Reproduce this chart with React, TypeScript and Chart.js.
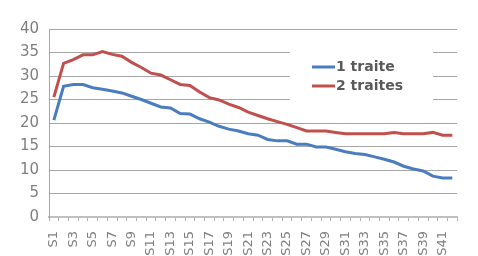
import React, { useEffect, useRef } from "react";
import { Chart, registerables } from "chart.js";

Chart.register(...registerables);

const categories: string[] = Array.from({ length: 42 }, (_, i) => "S" + (i + 1));
const seriesNames = ["1 traite", "2 traites"];
const oneTraite = [20.6, 27.8, 28.2, 28.2, 27.5, 27.2, 26.8, 26.4, 25.7, 25.0, 24.2, 23.4, 23.2, 22.0, 21.9, 20.9, 20.2, 19.3, 18.7, 18.3, 17.7, 17.4, 16.5, 16.2, 16.2, 15.5, 15.5, 14.9, 14.9, 14.4, 13.9, 13.5, 13.3, 12.8, 12.3, 11.7, 10.8, 10.2, 9.8, 8.7, 8.3, 8.3];
const twoTraites = [25.5, 32.7, 33.5, 34.5, 34.5, 35.2, 34.6, 34.2, 32.9, 31.8, 30.6, 30.2, 29.2, 28.2, 28.0, 26.6, 25.4, 24.9, 24.0, 23.3, 22.3, 21.6, 20.9, 20.3, 19.7, 19.0, 18.3, 18.3, 18.3, 18.0, 17.7, 17.7, 17.7, 17.7, 17.7, 18.0, 17.7, 17.7, 17.7, 18.0, 17.4, 17.4];
const colors = ["#4a7dbf", "#c0504d"];

const legendPlugin = {
  id: "boxLegend",
  afterDraw(chart: any) {
    const ctx = chart.ctx;
    ctx.save();
    ctx.fillStyle = "#ffffff";
    ctx.fillRect(290, 40, 143, 72);
    const rows = [67, 86];
    seriesNames.forEach((name, i) => {
      const y = rows[i];
      ctx.strokeStyle = colors[i];
      ctx.lineWidth = 3;
      ctx.beginPath();
      ctx.moveTo(312, y);
      ctx.lineTo(335, y);
      ctx.stroke();
      ctx.fillStyle = "#595959";
      ctx.font = "bold 14px 'DejaVu Sans'";
      ctx.textBaseline = "middle";
      ctx.textAlign = "left";
      ctx.fillText(name, 336, y);
    });
    ctx.restore();
  },
};

export default function App() {
  const ref = useRef<HTMLCanvasElement>(null);
  useEffect(() => {
    if (!ref.current) return;
    const chart = new Chart(ref.current, {
      type: "line",
      data: {
        labels: categories,
        datasets: [
          { label: seriesNames[0], data: oneTraite, borderColor: colors[0], backgroundColor: colors[0], borderWidth: 3, pointRadius: 0, tension: 0 },
          { label: seriesNames[1], data: twoTraites, borderColor: colors[1], backgroundColor: colors[1], borderWidth: 3, pointRadius: 0, tension: 0 },
        ],
      },
      options: {
        animation: false,
        responsive: false,
        devicePixelRatio: 1,
        layout: { padding: { left: 0, top: 29, right: 6, bottom: 0 } },
        plugins: { legend: { display: false }, tooltip: { enabled: false } },
        scales: {
          x: {
            offset: true,
            grid: { offset: true, drawOnChartArea: false, drawTicks: true, tickLength: 4, color: "#b0b0b0" },
            border: { display: true, color: "#c0c0c0", width: 2 },
            ticks: {
              autoSkip: false,
              maxRotation: 90,
              minRotation: 90,
              padding: 10,
              color: "#7f7f7f",
              font: { family: "DejaVu Sans", size: 13 },
              callback: (v: any, i: number) => (i % 2 === 0 ? categories[i] : ""),
            },
            afterFit: (s: any) => { s.height = 39; },
          },
          y: {
            min: 0,
            max: 40,
            ticks: { stepSize: 5, padding: 10, color: "#7f7f7f", font: { family: "DejaVu Sans", size: 15 } },
            grid: { color: "#a6a6a6", drawTicks: false },
            border: { display: true, color: "#a6a6a6", width: 1 },
            afterFit: (s: any) => { s.width = 49; },
          },
        },
      },
      plugins: [legendPlugin],
    });
    return () => chart.destroy();
  }, []);
  return (
    <div style={{ position: "fixed", left: 0, top: 0, width: 478, height: 256, background: "#fff" }}>
      <canvas ref={ref} width={478} height={256} />
    </div>
  );
}
